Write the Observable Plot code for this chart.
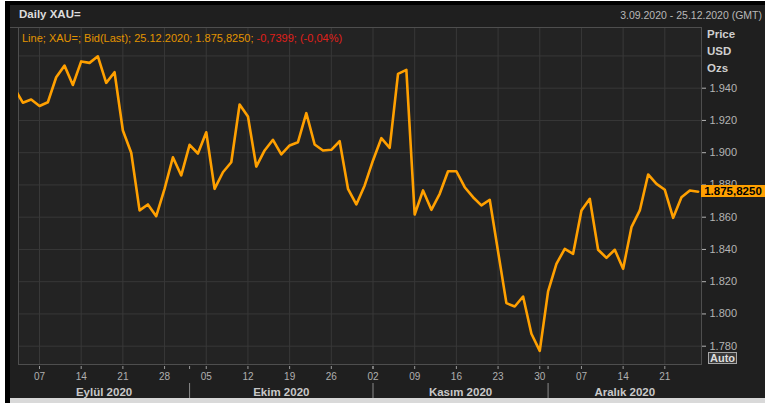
<!DOCTYPE html>
<html><head><meta charset="utf-8">
<script src="https://cdn.jsdelivr.net/npm/d3@7"></script>
<script src="https://cdn.jsdelivr.net/npm/@observablehq/plot@0.6"></script>
<style>
html,body{margin:0;padding:0;background:#fff;}
#wrap{position:relative;width:765px;height:403px;overflow:hidden;background:#1f1f1f;font-family:"Liberation Sans",Arial,sans-serif;}
#wrap svg{position:absolute;left:0;top:0;}
.ov{position:absolute;white-space:nowrap;line-height:1;}
</style></head><body>
<div id="wrap"></div>
<script>
// ---- data ----
const startDate = "2020-09-02"; // first trading day in the series (partly off-frame)
const prices = [1940, 1931, 1933, 1929, 1931.3, 1946.8, 1954, 1942, 1956.6, 1955.7, 1959.8, 1943.3, 1949.9, 1913.8, 1900, 1864.2, 1867.9, 1860.6, 1877.6, 1897.2, 1885.9, 1904.9, 1899.5, 1912.7, 1877.6, 1887.9, 1894.1, 1929.9, 1922.4, 1891.4, 1901.4, 1908, 1898.9, 1904.5, 1906.5, 1924.5, 1905.1, 1901.4, 1901.8, 1907.1, 1877.6, 1867.9, 1879.7, 1895.2, 1909, 1903, 1948.9, 1951.4, 1861.7, 1876.6, 1864.6, 1874.5, 1888.5, 1888.5, 1878.6, 1872.4, 1867.3, 1870.8, 1838.7, 1806.7, 1804.6, 1810.8, 1787.7, 1777.1, 1814, 1831.1, 1840.4, 1837.3, 1864.2, 1871.4, 1839.8, 1834.8, 1839.8, 1828, 1853.8, 1864.2, 1886.5, 1880.7, 1877, 1859.6, 1872.4, 1876.6, 1875.825];
const monthLabels = ["Eylül 2020", "Ekim 2020", "Kasım 2020", "Aralık 2020"];
const yTicks = [1780, 1800, 1820, 1840, 1860, 1880, 1900, 1920, 1940];
const yGrid = [1780, 1800, 1820, 1840, 1860, 1880, 1900, 1920, 1940, 1960];
const titleText = "Daily XAU=";
const legendMain = "Line; XAU=; Bid(Last); 25.12.2020; 1.875,8250; ";
const legendChange = "-0,7399; (-0,04%)";
const rangeText = "3.09.2020 - 25.12.2020 (GMT)";
const unitLines = ["Price", "USD", "Ozs"];
const lastLabel = "1.875,8250";

// ---- derived ----
const parse = d3.utcParse("%Y-%m-%d");
const days = [];
let dd = parse(startDate);
while (days.length < prices.length) {
  const wd = dd.getUTCDay();
  if (wd !== 0 && wd !== 6) days.push(new Date(dd));
  dd = d3.utcDay.offset(dd, 1);
}
const data = prices.map((p, k) => ({i: k - 1, date: days[k], p}));
const x0 = -0.52, x1 = 81.4;
const mondays = data.filter(r => r.date.getUTCDay() === 1).map(r => r.i);
const monthStarts = data.filter((r, k) => k > 0 && r.date.getUTCMonth() !== data[k - 1].date.getUTCMonth()).map(r => r.i);
const bounds = [x0, ...monthStarts, x1];
const monthCenters = monthLabels.map((_, k) => (bounds[k] + bounds[k + 1]) / 2);
const byIndex = new Map(data.map(r => [r.i, r]));
const dayLabel = i => d3.utcFormat("%d")(byIndex.get(i).date);
const monthLabel = c => monthLabels[monthCenters.indexOf(c)];
const loc = d3.formatLocale({thousands: ".", decimal: ",", grouping: [3], currency: ["", ""]});
const fmt = loc.format(",");
const yMin = 1940 - (364 - 87.7) / 1.6125, yMax = 1940 + (87.7 - 27) / 1.6125;
const noText = () => "";

const chart = Plot.plot({
  width: 765, height: 403,
  marginLeft: 18, marginRight: 64, marginTop: 27, marginBottom: 39,
  style: {background: "transparent", fontFamily: "Liberation Sans, Arial, sans-serif", fontSize: "11px", color: "#b4b4b4", overflow: "visible"},
  x: {type: "linear", domain: [x0, x1]},
  y: {domain: [yMin, yMax]},
  marks: [
    Plot.frame({fill: "#232323", stroke: null}),
    Plot.gridY(yGrid, {stroke: "#383838", strokeOpacity: 1}),
    Plot.gridX(mondays, {stroke: "#383838", strokeOpacity: 1}),
    Plot.frame({stroke: "#4e4e4e"}),
    Plot.line(data, {x: "i", y: "p", stroke: "#ffa000", strokeWidth: 2.6, clip: true}),
    Plot.axisY(yTicks, {anchor: "right", tickSize: 4, tickPadding: 4, tickFormat: fmt, color: "#b4b4b4", label: null, fontSize: 11}),
    Plot.axisX([...mondays, ...monthStarts], {anchor: "bottom", tickSize: 3, dy: 2, stroke: "#9a9a9a", tickFormat: noText, label: null}),
    Plot.axisX(mondays, {anchor: "bottom", tickSize: 0, tickPadding: 8, tickFormat: dayLabel, fill: "#b0b0b0", fontSize: 10, label: null}),
    Plot.axisX(monthStarts, {anchor: "bottom", tickSize: 15, dy: 19, stroke: "#8a8a8a", tickFormat: noText, label: null}),
    Plot.axisX(monthCenters, {anchor: "bottom", tickSize: 0, tickPadding: 23, tickFormat: monthLabel, fill: "#c8c8c8", fontSize: 11.5, fontWeight: "bold", label: null})
  ]
});

const wrap = document.getElementById("wrap");
function ov(text, css) {
  const el = document.createElement("div");
  el.className = "ov";
  el.textContent = text;
  Object.assign(el.style, css);
  wrap.appendChild(el);
  return el;
}
// frame decorations
ov("", {left: "0px", top: "0px", width: "5px", height: "403px", background: "#fff"});
ov("", {left: "5px", top: "0px", width: "5px", height: "403px", background: "#000"});
ov("", {left: "5px", top: "1px", width: "760px", height: "4px", background: "#000"});
ov("", {left: "0px", top: "0px", width: "765px", height: "1px", background: "#fff"});
ov("", {left: "10px", top: "26.5px", width: "691px", height: "1px", background: "#4e4e4e"});
ov("", {left: "10px", top: "398px", width: "755px", height: "5px", background: "#d9d9d9"});
wrap.appendChild(chart);

ov(titleText, {left: "19px", top: "9px", fontSize: "11.5px", fontWeight: "bold", color: "#dcdcdc"});
ov(rangeText, {right: "3px", top: "10px", fontSize: "10.5px", color: "#b8b8b8"});
const lg = ov("", {left: "22px", top: "33px", fontSize: "11px", color: "#e29400"});
lg.textContent = legendMain;
const red = document.createElement("span");
red.textContent = legendChange;
red.style.color = "#e0201a";
lg.appendChild(red);
unitLines.forEach((t, k) => ov(t, {left: "707px", top: (29 + 17 * k) + "px", fontSize: "11.5px", fontWeight: "bold", color: "#cfcfcf"}));
ov("Auto", {left: "708px", top: "352px", width: "27px", height: "10px", fontSize: "11px", fontWeight: "bold", color: "#dddddd", border: "1px solid #a8a8a8", background: "#3a3a3a", textAlign: "center", lineHeight: "10px"});
const yLast = chart.scale("y").apply(data[data.length - 1].p);
ov(lastLabel, {left: "701px", top: (yLast - 6) + "px", width: "64px", height: "12px", lineHeight: "12px", fontSize: "11.5px", fontWeight: "bold", color: "#000", background: "#ffa000", textAlign: "center"});
</script>
</body></html>
